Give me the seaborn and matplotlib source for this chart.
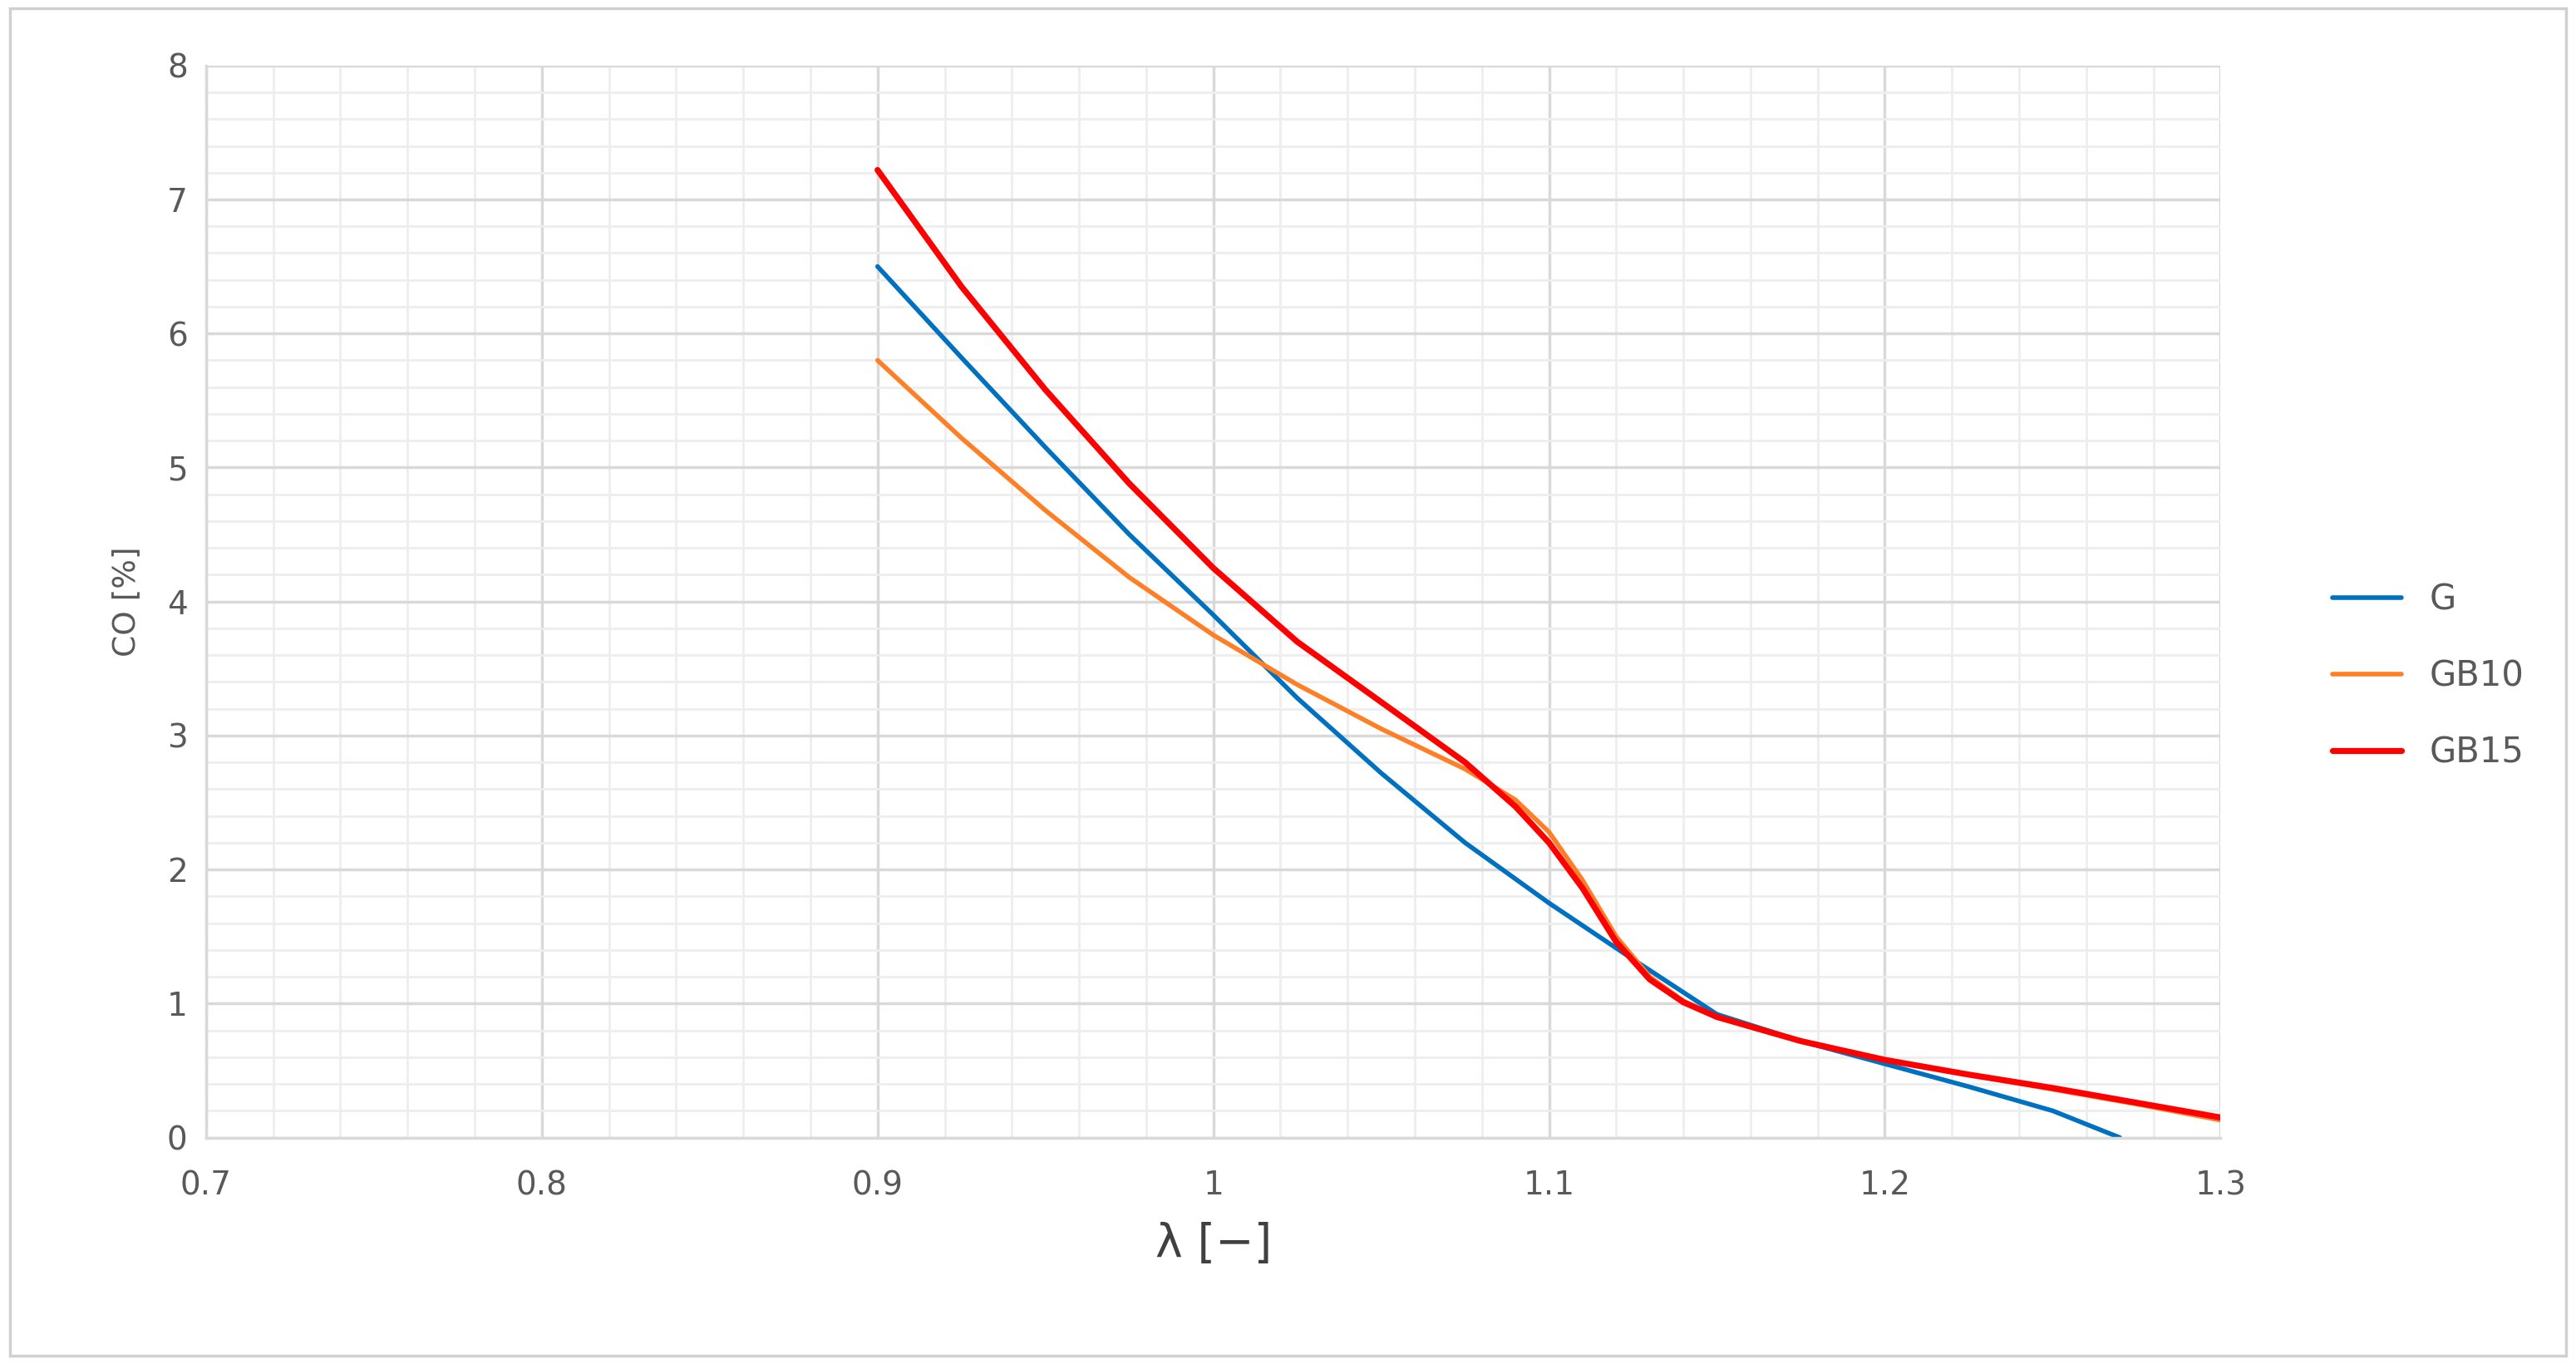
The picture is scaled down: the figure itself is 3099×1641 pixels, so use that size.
import matplotlib
matplotlib.use("Agg")
import matplotlib.pyplot as plt
import seaborn as sns
import pandas as pd
import numpy as np
from matplotlib.ticker import MultipleLocator
from matplotlib.patches import Rectangle

g_x = [0.9, 0.925, 0.95, 0.975, 1.0, 1.025, 1.05, 1.075, 1.1, 1.125, 1.15, 1.175, 1.2, 1.225, 1.25, 1.27]
g_y = [6.5, 5.82, 5.15, 4.5, 3.9, 3.28, 2.72, 2.2, 1.75, 1.33, 0.92, 0.72, 0.55, 0.38, 0.2, 0.0]
gb10_x = [0.9, 0.925, 0.95, 0.975, 1.0, 1.025, 1.05, 1.075, 1.09, 1.1, 1.11, 1.12, 1.13, 1.14, 1.15, 1.175, 1.2, 1.225, 1.25, 1.275, 1.3]
gb10_y = [5.8, 5.22, 4.68, 4.18, 3.75, 3.38, 3.05, 2.75, 2.52, 2.28, 1.92, 1.5, 1.2, 1.02, 0.9, 0.72, 0.58, 0.47, 0.36, 0.25, 0.13]
gb15_x = [0.9, 0.925, 0.95, 0.975, 1.0, 1.025, 1.05, 1.075, 1.09, 1.1, 1.11, 1.12, 1.13, 1.14, 1.15, 1.175, 1.2, 1.225, 1.25, 1.275, 1.3]
gb15_y = [7.22, 6.35, 5.58, 4.88, 4.25, 3.7, 3.25, 2.8, 2.47, 2.2, 1.86, 1.46, 1.18, 1.01, 0.9, 0.72, 0.58, 0.47, 0.37, 0.26, 0.15]
series = ["G", "GB10", "GB15"]
colors = ["#0070C0", "#FF7F27", "#FF0000"]
widths = [4.0, 4.0, 5.2]

df = pd.concat([
    pd.DataFrame({"x": g_x, "y": g_y, "s": "G"}),
    pd.DataFrame({"x": gb10_x, "y": gb10_y, "s": "GB10"}),
    pd.DataFrame({"x": gb15_x, "y": gb15_y, "s": "GB15"}),
])

sns.set_style("white")
fig = plt.figure(figsize=(30.99, 16.41), dpi=100)
ax = fig.add_axes([0.080, 0.166, 0.782, 0.786])
fig.patches.append(Rectangle((0.004, 0.006), 0.992, 0.988, transform=fig.transFigure,
                             fill=False, edgecolor="#d0d0d0", linewidth=2.5))

for s, c, w in zip(series, colors, widths):
    sns.lineplot(data=df[df.s == s], x="x", y="y", ax=ax, color=c, linewidth=w, label=s)

ax.set_xlim(0.7, 1.3)
ax.set_ylim(0, 8)
ax.xaxis.set_minor_locator(MultipleLocator(0.02))
ax.yaxis.set_major_locator(MultipleLocator(1))
ax.yaxis.set_minor_locator(MultipleLocator(0.2))
ticks = [0.7, 0.8, 0.9, 1.0, 1.1, 1.2, 1.3]
ax.set_xticks(ticks)
ax.set_xticklabels(["0.7", "0.8", "0.9", "1", "1.1", "1.2", "1.3"])
ax.grid(which="major", color="#d9d9d9", linewidth=2.5)
ax.grid(which="minor", color="#eeeeee", linewidth=2)
for sp in ["top", "right"]:
    ax.spines[sp].set_visible(False)
ax.spines["left"].set_color("#d9d9d9"); ax.spines["left"].set_linewidth(2.5)
ax.spines["bottom"].set_color("#d9d9d9"); ax.spines["bottom"].set_linewidth(2.5)
ax.tick_params(axis="y", which="major", labelsize=28, colors="#595959", length=0, pad=16)
ax.tick_params(axis="x", which="major", labelsize=28, colors="#595959", length=0, pad=28)
ax.set_xlabel("λ [−]", fontsize=40, color="#404040", labelpad=18)
ax.set_ylabel("CO [%]", fontsize=27, color="#595959", labelpad=22)
ax.legend(loc="center left", bbox_to_anchor=(1.04, 0.43), frameon=False, fontsize=30,
          labelcolor="#595959", handlelength=2.0, labelspacing=1.2)
fig.savefig("out.png", dpi=100)
